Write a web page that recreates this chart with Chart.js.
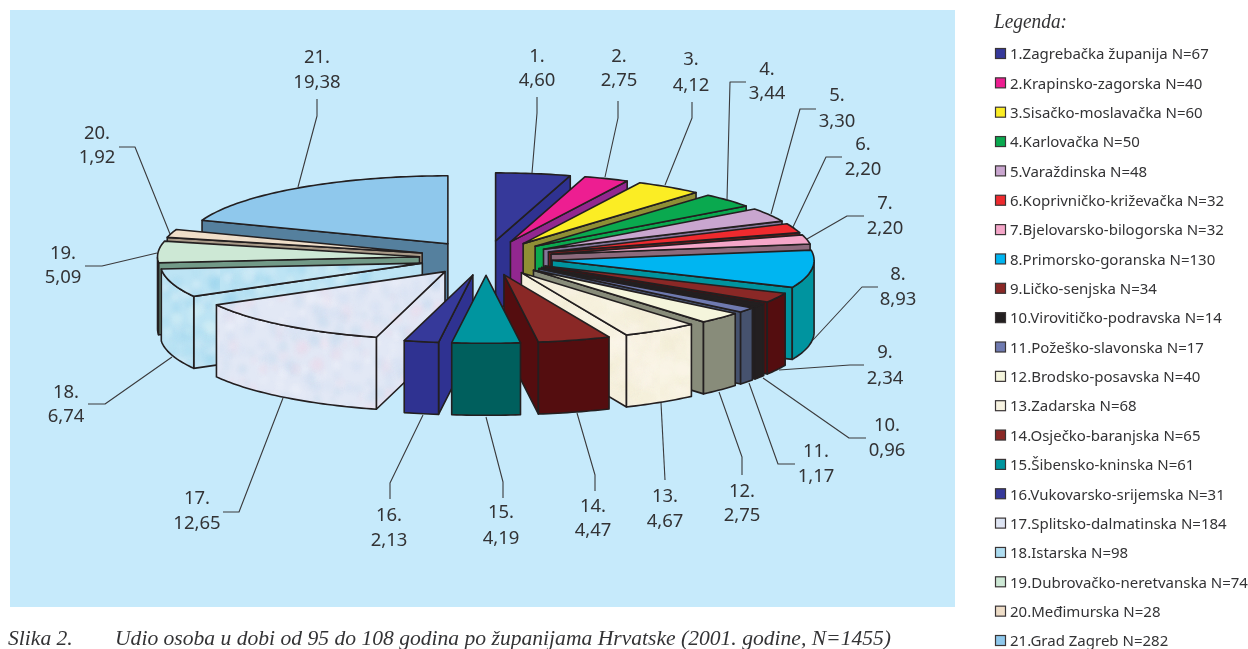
<!DOCTYPE html>
<html>
<head>
<meta charset="utf-8">
<title>Udio osoba u dobi od 95 do 108 godina</title>
<script src="https://cdn.jsdelivr.net/npm/chart.js@4/dist/chart.umd.min.js"></script>
<style>
    html, body { margin: 0; padding: 0; background: #fff; }
    canvas { display: block; }
</style>
</head>
<body>
<canvas id="chart" width="1248" height="649"></canvas>
<script>
// Values
const shares = [4.60, 2.75, 4.12, 3.44, 3.30, 2.20, 2.20, 8.93, 2.34, 0.96, 1.17, 2.75, 4.67, 4.47, 4.19, 2.13, 12.65, 6.74, 5.09, 1.92, 19.38];
const counties = ["Zagrebačka županija", "Krapinsko-zagorska", "Sisačko-moslavačka", "Karlovačka", "Varaždinska", "Koprivničko-križevačka", "Bjelovarsko-bilogorska", "Primorsko-goranska", "Ličko-senjska", "Virovitičko-podravska", "Požeško-slavonska", "Brodsko-posavska", "Zadarska", "Osječko-baranjska", "Šibensko-kninska", "Vukovarsko-srijemska", "Splitsko-dalmatinska", "Istarska", "Dubrovačko-neretvanska", "Međimurska", "Grad Zagreb"];
const counts = [67, 40, 60, 50, 48, 32, 32, 130, 34, 14, 17, 40, 68, 65, 61, 31, 184, 98, 74, 28, 282];

const topColors = ["#36399a", "#ed1e91", "#fbed24", "#0aa94f", "#c9a6cf", "#ee2a2e", "#f4a6c8", "#00b5f1", "#8a2826", "#231f20", "#6f7ab0", "#f5f5dc", "tex:cream", "#8a2826", "#00959f", "#36399a", "tex:lilac", "tex:aqua", "#cde8d5", "tex:sand", "#8fc8ec"];
const sideColors = ["#2f3291", "#92278f", "#8f8f35", "#0aa94f", "#85769a", "#7a1a1a", "#8c6a7c", "#00949f", "#540d0f", "#231f20", "#46526e", "#888c7a", "tex:cream", "#540d0f", "#005f5d", "#2f3291", "tex:lilac", "tex:aqua", "#729a88", "#a89a88", "#55809e"];

// Hand placed call-outs: label centre x, y of both lines, then the leader line
const labelSpots = [
    [537, 57, 81], [619, 57, 81], [691, 60, 86], [767, 70, 94], [837, 96, 122], [863, 145, 170], [885, 204, 229],
    [898, 275, 300], [885, 353, 379], [887, 426, 451], [816, 452, 477], [742, 492, 516], [665, 497, 522], [593, 507, 531],
    [501, 513, 539], [389, 516, 541], [197, 499, 524], [66, 393, 417], [63, 254, 278], [97, 134, 158], [317, 58, 83]
];
const leaderPaths = [
    [[532, 173], [537, 113], [537, 97]],
    [[605, 177], [618, 118], [618, 101]],
    [[665, 185], [692, 118], [692, 102]],
    [[727, 200], [730, 82], [746, 82]],
    [[771, 214], [800, 109], [816, 109]],
    [[793, 227], [826, 157], [842, 157]],
    [[807, 239], [847, 216], [864, 216]],
    [[813, 340], [862, 287], [878, 287]],
    [[779, 370], [850, 365], [864, 365]],
    [[763, 378], [849, 438], [866, 438]],
    [[749, 383], [778, 464], [795, 464]],
    [[719, 392], [742, 457], [742, 475]],
    [[661, 403], [665, 480]],
    [[577, 413], [595, 475], [595, 491]],
    [[486, 417], [503, 482], [503, 498]],
    [[423, 415], [390, 483], [390, 499]],
    [[283, 398], [239, 512], [223, 512]],
    [[172, 357], [105, 404], [88, 404]],
    [[157, 253], [102, 266], [85, 266]],
    [[170, 234], [135, 147], [119, 147]],
    [[298, 187], [317, 116], [317, 99]]
];

const INK = "#231f20";
const TEXT = "#333335";
const PANEL = "#c6eafb";
const RADIUS_X = 262;     // on-screen half width of the tilted pie
const RADIUS_Y = 68;      // on-screen half height
const DEPTH = 72;         // wall height
const LABEL_FONT = '18.5px "Noto Sans"';
const LEGEND_FONT = '15px "Noto Sans"';

// Mottled fills used on the textured slices
function mottled(base, blobs, big) {
    const c = document.createElement("canvas");
    c.width = c.height = 220;
    const g = c.getContext("2d");
    g.fillStyle = base;
    g.fillRect(0, 0, 220, 220);
    g.filter = "blur(2px)";
    for (let i = 0; i < 700; i++) {
        const x = (i * 61.803) % 220;
        const y = Math.abs((i * 37.417 + 40 * Math.sin(i * 1.7)) % 220);
        const r = big * (0.35 + 0.65 * Math.abs(Math.sin(i * 2.3)));
        g.globalAlpha = 0.16;
        g.fillStyle = blobs[i % blobs.length];
        g.beginPath();
        g.arc(x, y, r, 0, Math.PI * 2);
        g.fill();
    }
    return c;
}

const ctxMain = document.getElementById("chart").getContext("2d");
const textures = {
    cream: ctxMain.createPattern(mottled("#f8f4e2", ["#fdfbf2", "#f3ecd2"], 12), "repeat"),
    lilac: ctxMain.createPattern(mottled("#e2e8f5", ["#b5d5ef", "#f3d5e5", "#f8f8fc", "#c4d8f0"], 6), "repeat"),
    aqua: ctxMain.createPattern(mottled("#bde4f4", ["#86cfec", "#e6f6fb", "#a4daf0", "#f2fbfd"], 7), "repeat"),
    sand: ctxMain.createPattern(mottled("#f0dfca", ["#e3cdb4", "#f8eee0"], 4), "repeat")
};
const fillOf = (name) => name.startsWith("tex:") ? textures[name.slice(4)] : name;

const pie3d = {
    id: "pie3d",
    beforeDraw(chart) {
        const ctx = chart.ctx;
        ctx.save();
        ctx.fillStyle = PANEL;
        ctx.fillRect(10, 10, 945, 597);

        // caption
        ctx.fillStyle = TEXT;
        ctx.textBaseline = "alphabetic";
        ctx.textAlign = "left";
        ctx.font = 'italic 21.6px "Liberation Serif"';
        ctx.fillText("Slika 2.", 8, 645, 70);
        ctx.fillText("Udio osoba u dobi od 95 do 108 godina po županijama Hrvatske (2001. godine, N=1455)", 115, 645, 776);

        // legend
        ctx.font = 'italic 20px "Liberation Serif"';
        ctx.fillText("Legenda:", 994, 28, 73);
        ctx.font = LEGEND_FONT;
        ctx.textBaseline = "middle";
        counties.forEach((name, i) => {
            const y = 54 + i * 29.35;
            ctx.fillStyle = fillOf(topColors[i]);
            ctx.fillRect(995.5, y - 5.5, 10, 10);
            ctx.strokeStyle = "#3a3536";
            ctx.lineWidth = 1.2;
            ctx.strokeRect(995.5, y - 5.5, 10, 10);
            ctx.fillStyle = TEXT;
            ctx.fillText((i + 1) + "." + name + " N=" + counts[i], 1010, y + 1);
        });
        ctx.restore();
    },
    beforeDatasetDraw(chart, args) {
        const ctx = chart.ctx;
        const arcs = args.meta.data;

        // back slices first
        const order = arcs.map((arc, i) => i).sort((a, b) => {
            const mid = (arc) => (arc.startAngle + arc.endAngle) / 2;
            return Math.sin(mid(arcs[a])) - Math.sin(mid(arcs[b]));
        });

        order.forEach((i) => {
            const arc = arcs[i];
            const mid = (arc.startAngle + arc.endAngle) / 2;
            const kx = RADIUS_X / arc.outerRadius;
            const ky = RADIUS_Y / arc.outerRadius;
            const shift = arc.options.offset / 4; // same shift ArcElement.draw applies
            const tipX = arc.x + Math.cos(mid) * shift * kx;
            const tipY = arc.y + Math.sin(mid) * shift * ky;
            const edge = (a) => [tipX + Math.cos(a) * RADIUS_X, tipY + Math.sin(a) * RADIUS_Y];

            const rim = [];
            const steps = Math.max(2, Math.ceil((arc.endAngle - arc.startAngle) / 0.02));
            for (let s = 0; s <= steps; s++) {
                rim.push(arc.startAngle + (arc.endAngle - arc.startAngle) * s / steps);
            }

            const paint = (pts, fill) => {
                ctx.beginPath();
                pts.forEach((p, n) => n ? ctx.lineTo(p[0], p[1]) : ctx.moveTo(p[0], p[1]));
                ctx.closePath();
                ctx.fillStyle = fill;
                ctx.fill();
                ctx.strokeStyle = INK;
                ctx.lineWidth = 1.6;
                ctx.lineJoin = "round";
                ctx.stroke();
            };
            const wall = (pts, fill) => {
                const low = pts.slice().reverse().map((p) => [p[0], p[1] + DEPTH]);
                paint(pts.concat(low), fill);
            };

            const side = fillOf(sideColors[i]);
            const tip = [tipX, tipY];
            if (Math.cos(arc.startAngle) < 0) wall([tip, edge(arc.startAngle)], side);
            if (Math.cos(arc.endAngle) > 0) wall([edge(arc.endAngle), tip], side);
            const front = rim.filter((a) => Math.sin(a) > 0);
            if (front.length > 1) wall(front.map(edge), side);
            paint([tip].concat(rim.map(edge)), arc.options.backgroundColor);
        });
        return false;
    },
    afterDraw(chart) {
        const ctx = chart.ctx;
        ctx.save();
        ctx.strokeStyle = "#3a3a3c";
        ctx.lineWidth = 1.1;
        leaderPaths.forEach((path) => {
            ctx.beginPath();
            path.forEach((p, n) => n ? ctx.lineTo(p[0], p[1]) : ctx.moveTo(p[0], p[1]));
            ctx.stroke();
        });
        ctx.fillStyle = TEXT;
        ctx.font = LABEL_FONT;
        ctx.textAlign = "center";
        ctx.textBaseline = "middle";
        shares.forEach((v, i) => {
            const [x, y1, y2] = labelSpots[i];
            ctx.fillText((i + 1) + ".", x, y1);
            ctx.fillText(v.toFixed(2).replace(".", ","), x, y2);
        });
        ctx.restore();
    }
};

new Chart(ctxMain, {
    type: "pie",
    data: {
        labels: counties,
        datasets: [{
            data: shares,
            backgroundColor: topColors.map(fillOf),
            borderWidth: 0,
            offset: 174
        }]
    },
    options: {
        responsive: false,
        animation: false,
        layout: { padding: { left: 226, right: 502, top: 0, bottom: 133 } },
        plugins: { legend: { display: false }, title: { display: false }, tooltip: { enabled: false } }
    },
    plugins: [pie3d]
});
</script>
</body>
</html>
